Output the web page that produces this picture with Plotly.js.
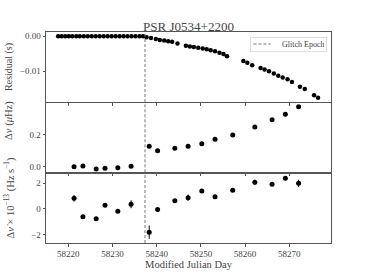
<!DOCTYPE html>
<html><head><meta charset="utf-8">
<script src="https://cdn.plot.ly/plotly-3.0.1.min.js"></script>
<style>html,body{margin:0;padding:0;background:#fff}#chart{width:368px;height:273px}</style>
</head><body><div id="chart"></div>
<script>
// ---- data ----
const glitchEpoch = 58237.35;
const resMjd = [58217.7, 58218.5, 58219.3, 58220.1, 58220.9, 58221.8, 58222.6, 58223.5, 58224.4, 58225.3, 58226.2, 58227.1, 58228.0, 58228.9, 58229.8, 58230.7, 58231.6, 58232.5, 58233.4, 58234.3, 58235.2, 58236.1, 58236.9,
  58237.7, 58238.7, 58239.8, 58240.7, 58241.7, 58242.6, 58243.5, 58244.7,
  58246.6, 58247.5, 58248.4, 58249.4, 58250.4, 58251.3, 58252.2, 58253.2, 58254.2, 58255.1, 58255.9,
  58259.6, 58260.5, 58261.6, 58263.5, 58264.4, 58265.4, 58266.5, 58267.5, 58268.5, 58269.6, 58270.6, 58272.4, 58273.5, 58275.6, 58276.5];
const residual = [0, 0, 0, 0, 0, 0, 0, 0, 0, 0, 0, 0, 0, 0, 0, 0, 0, 0, 0, 0, 0, 0, 0,
  -0.0003, -0.0005, -0.0008, -0.0011, -0.0012, -0.0014, -0.0016, -0.0021,
  -0.0027, -0.0029, -0.0031, -0.0033, -0.0035, -0.0037, -0.0040, -0.0043, -0.0047, -0.0051, -0.0057,
  -0.0071, -0.0076, -0.0083, -0.0091, -0.0095, -0.0100, -0.0107, -0.0113, -0.0118, -0.0123, -0.0131, -0.0145, -0.0151, -0.0169, -0.0176];
const fitMjd = [58221.3, 58223.3, 58226.3, 58228.3, 58231.2, 58234.2, 58238.3, 58240.2, 58244.1, 58247.1, 58250.2, 58253.2, 58257.2, 58262.2, 58266.1, 58269.1, 58272.1];
const dNu = [0.002, 0.006, -0.012, -0.008, -0.004, 0.004, 0.128, 0.101, 0.116, 0.128, 0.144, 0.171, 0.198, 0.248, 0.293, 0.326, 0.373];
const dNuDot = [0.83, -0.6, -0.76, 0.29, -0.18, 0.37, -1.82, -0.05, 0.65, 0.88, 1.41, 0.96, 1.46, 2.08, 1.92, 2.4, 2.0];
const dNuDotErr = [0.26, 0.08, 0.08, 0.08, 0.08, 0.31, 0.52, 0.08, 0.1, 0.25, 0.08, 0.08, 0.08, 0.2, 0.08, 0.08, 0.28];
const xTicks = [58220, 58230, 58240, 58250, 58260, 58270];
const resTicks = [0, -0.01];
const nuTicks = [0, 0.2];
const nuDotTicks = [-2, 0, 2];
const legendName = 'Glitch Epoch';

const txt = '#444', frame = '#555';
const fontFam = '"Liberation Serif", "DejaVu Serif", serif';
const xr = [58214.95, 58279.43];

function xa(showLabels, anchor) {
  return {range: xr, anchor: anchor, showline: true, mirror: true, linecolor: frame, linewidth: 1,
    ticks: 'outside', ticklen: 2.5, tickcolor: frame, tickvals: xTicks, tickformat: 'd',
    showticklabels: showLabels, showgrid: false, zeroline: false,
    tickfont: {size: 9, color: txt, family: fontFam}};
}
function ya(dom, range, ticks, fmt, anchor) {
  return {domain: dom, range: range, anchor: anchor, showline: true, mirror: true, linecolor: frame, linewidth: 1,
    ticks: 'outside', ticklen: 2.5, tickcolor: frame, tickvals: ticks, tickformat: fmt,
    showgrid: false, zeroline: false, tickfont: {size: 9, color: txt, family: fontFam}};
}

const dashLine = {color: '#666', width: 0.9, dash: '3px,2px'};

const traces = [
  {x: resMjd, y: residual, xaxis: 'x', yaxis: 'y', mode: 'markers', type: 'scatter', showlegend: false,
   marker: {color: '#000', size: 4.5}},
  {x: fitMjd, y: dNu, xaxis: 'x2', yaxis: 'y2', mode: 'markers', type: 'scatter', showlegend: false,
   marker: {color: '#000', size: 5}},
  {x: fitMjd, y: dNuDot, xaxis: 'x3', yaxis: 'y3', mode: 'markers', type: 'scatter', showlegend: false,
   marker: {color: '#000', size: 5},
   error_y: {type: 'data', array: dNuDotErr, visible: true, color: '#000', thickness: 1, width: 0}}
];

const shapes = [
  {type: 'line', xref: 'x', yref: 'y domain', x0: glitchEpoch, x1: glitchEpoch, y0: 0, y1: 1, line: dashLine},
  {type: 'line', xref: 'x2', yref: 'y2 domain', x0: glitchEpoch, x1: glitchEpoch, y0: 0, y1: 1, line: dashLine},
  {type: 'line', xref: 'x3', yref: 'y3 domain', x0: glitchEpoch, x1: glitchEpoch, y0: 0, y1: 1, line: dashLine},
  // legend sample line
  {type: 'line', xref: 'paper', yref: 'paper', x0: 0.728, x1: 0.788, y0: 0.943, y1: 0.943, line: dashLine}
];

const layout = {
  width: 368, height: 273,
  margin: {l: 46, r: 37, t: 32, b: 30},
  paper_bgcolor: '#fff', plot_bgcolor: '#fff',
  font: {family: fontFam, color: txt},
  title: {text: 'PSR J0534+2200', font: {size: 13, color: txt, family: fontFam},
          x: 0.5, xref: 'paper', xanchor: 'center', y: 1, yref: 'paper', yanchor: 'bottom', pad: {b: 1}},
  xaxis: xa(false, 'y'),
  xaxis2: xa(false, 'y2'),
  xaxis3: Object.assign(xa(true, 'y3'), {title: {text: 'Modified Julian Day', font: {size: 10.5, color: txt, family: fontFam}, standoff: 2}}),
  yaxis: ya([0.668, 1], [-0.01886, 0.00123], resTicks, '.2f', 'x'),
  yaxis2: ya([0.335, 0.662], [-0.033, 0.394], nuTicks, '.1f', 'x2'),
  yaxis3: ya([0, 0.327], [-2.66, 2.73], nuDotTicks, 'd', 'x3'),
  shapes: shapes,
  showlegend: false,
  annotations: [
    // legend box
    {text: legendName, xref: 'paper', yref: 'paper', x: 0.986, y: 0.976, xanchor: 'right', yanchor: 'top',
     width: 72, height: 10, align: 'right', valign: 'middle', borderpad: 1.5, bordercolor: '#ddd', borderwidth: 1,
     showarrow: false, font: {size: 8, color: txt, family: fontFam}},
    {text: 'Residual (s)', textangle: -90, xref: 'paper', yref: 'paper', x: -0.13, y: 0.834, xanchor: 'center', yanchor: 'middle', showarrow: false, font: {size: 10, color: txt, family: fontFam}},
    {text: 'Δ<i>ν</i> (<i>μ</i>Hz)', textangle: -90, xref: 'paper', yref: 'paper', x: -0.13, y: 0.583, xanchor: 'center', yanchor: 'middle', showarrow: false, font: {size: 10.5, color: txt, family: fontFam}},
    {text: 'Δ<i>ν̇</i> × 10<sup>−13</sup> (Hz s<sup>−1</sup>)', textangle: -90, xref: 'paper', yref: 'paper', x: -0.13, y: 0.215, xanchor: 'center', yanchor: 'middle', showarrow: false, font: {size: 10.5, color: txt, family: fontFam}}
  ]
};

Plotly.newPlot('chart', traces, layout, {staticPlot: true, displayModeBar: false});
</script>
</body></html>
